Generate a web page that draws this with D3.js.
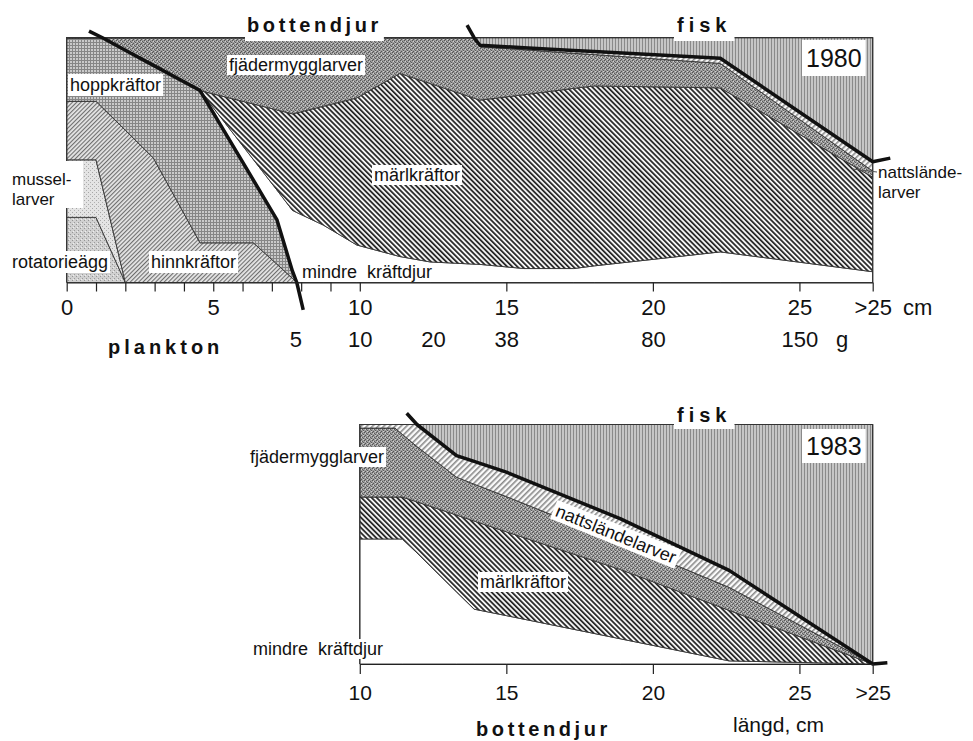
<!DOCTYPE html>
<meta charset="utf-8">
<title>Abborrens föda 1980 och 1983</title>
<style>
body { margin: 0; background: #fff; }
svg { display: block; font-family: "Liberation Sans", Arial, Helvetica, sans-serif; }
.lab { font-size: 18px; fill: #111; white-space: pre; }
.bold { font-size: 20px; font-weight: bold; fill: #111; }
.year { font-size: 25px; fill: #111; }
.axis text { font-family: "Liberation Sans", Arial, sans-serif; font-size: 22px; fill: #111; }
.axis line, .axis path { stroke: #222; stroke-width: 1.2px; }
.frame { fill: none; stroke: #333; stroke-width: 1.2px; }
.thick { fill: none; stroke: #111; stroke-width: 3.5px; stroke-linejoin: round; }
</style>
<body>
<script src="https://cdn.jsdelivr.net/npm/d3@7"></script>
<script>

// --- 1980: andel av födan (%) vid fisklängd (cm) ---
var len1980    = [0, 1, 1.22, 2, 2.96, 4.55, 6.37, 7.17, 7.7, 7.85, 8.75, 9.9, 11.37, 12.4, 13.9, 14.1, 15.6, 17.3, 18, 22.3, 27.5];
var rot1980    = [26.6, 26.6, 20.7, 0, 0, 0, 0, 0, 0, 0, 0, 0, 0, 0, 0, 0, 0, 0, 0, 0, 0];
var mus1980    = [23.5, 23.5, 18.4, 0, 0, 0, 0, 0, 0, 0, 0, 0, 0, 0, 0, 0, 0, 0, 0, 0, 0];
var hinn1980   = [23.9, 23.9, 32.3, 62.2, 50.8, 16.2, 16.2, 7.5, 1.7, 0, 0, 0, 0, 0, 0, 0, 0, 0, 0, 0, 0];
var hopp1980   = [26.0, 26.0, 28.6, 32.7, 37.9, 62.2, 25.6, 18.2, 3.0, 0, 0, 0, 0, 0, 0, 0, 0, 0, 0, 0, 0];
var mindre1980 = [0, 0, 0, 0, 0, 0, 8.4, 12.1, 24.8, 28.6, 23.5, 15.3, 10.6, 8.4, 7.5, 7.4, 5.7, 5.7, 6.8, 12.5, 4.4];
var marl1980   = [0, 0, 0, 0, 0, 0, 22.7, 32.7, 39.4, 40.7, 48.5, 60.1, 74.8, 72.9, 67.8, 67.1, 71.0, 73.6, 73.5, 67.0, 38.6];
var fjad1980   = [0, 0, 0, 5.1, 11.3, 21.6, 27.1, 29.5, 31.1, 30.7, 28.0, 24.6, 14.6, 18.7, 24.7, 21.8, 18.4, 14.3, 12.8, 10.0, 2.5];
var natt1980   = [0, 0, 0, 0, 0, 0, 0, 0, 0, 0, 0, 0, 0, 0, 0, 0.6, 0.8, 1.2, 1.3, 2.1, 3.8];
var fisk1980   = [0, 0, 0, 0, 0, 0, 0, 0, 0, 0, 0, 0, 0, 0, 0, 3.1, 4.1, 5.2, 5.6, 8.4, 50.7];

// --- 1983 ---
var len1983    = [10, 11.2, 11.45, 11.95, 13.3, 13.9, 15, 18.9, 22.6, 27.5];
var mindre1983 = [52.2, 52.2, 52.2, 46.4, 30.1, 22.9, 20.2, 10.5, 1.3, 0];
var marl1983   = [17.5, 17.5, 17.5, 21.3, 32.1, 36.8, 35.0, 28.9, 21.1, 0];
var fjad1983   = [28.8, 28.8, 26.2, 23.1, 15.8, 15.4, 14.7, 11.4, 9.6, 0];
var natt1983   = [1.5, 1.5, 4.1, 9.2, 9.0, 9.5, 10.2, 9.8, 7.1, 0];
var fisk1983   = [0, 0, 0, 0, 13.0, 15.4, 19.9, 39.4, 60.9, 100];

var keys1980 = ["rotatorieägg", "musselarver", "hinnkräftor", "hoppkräftor", "mindre kräftdjur",
                "märlkräftor", "fjädermygglarver", "nattsländelarver", "fisk"];
var keys1983 = ["mindre kräftdjur", "märlkräftor", "fjädermygglarver", "nattsländelarver", "fisk"];

// ends of the thick lines, outside the frame  [cm, %]
var plankEnds1980 = [[0.76, 102.7], [8.07, -11.2]];
var fiskEnds1980  = [[13.66, 105.1], [28.1, 50.8]];
var fiskEnds1983  = [[11.6, 104.7], [28.0, 0.5]];

// axis ticks
var cmAt   = [0, 5, 10, 15, 20, 25, 27.5];
var cmText = ["0", "5", "10", "15", "20", "25", ">25"];
var cmTicks1980 = [0, 1, 2, 3, 4, 5, 6, 7, 8, 9, 10, 15, 20, 25, 27.5];
var cmTicks1983 = [10, 15, 20, 25, 27.5];
var gAt   = [7.8, 10, 12.5, 15, 20, 25];
var gText = ["5", "10", "20", "38", "80", "150"];

var svg = d3.select("body").append("svg").attr("width", 973).attr("height", 741);
svg.append("rect").attr("width", 973).attr("height", 741).attr("fill", "#fff");

var x = d3.scaleLinear().domain([0, 27.5]).range([66.7, 872.7]);
var y80 = d3.scaleLinear().domain([0, 100]).range([282.5, 37.7]);
var y83 = d3.scaleLinear().domain([0, 100]).range([664, 424.5]);

/* patterns */
var defs = svg.append("defs");
function stripes(id, angle, size, w, bg, fg) {
  var p = defs.append("pattern").attr("id", id).attr("patternUnits", "userSpaceOnUse")
    .attr("width", size).attr("height", size).attr("patternTransform", "rotate(" + angle + ")");
  p.append("rect").attr("width", size).attr("height", size).attr("fill", bg);
  p.append("rect").attr("width", w).attr("height", size).attr("fill", fg);
}
function dots(id, bg, pts) {
  var p = defs.append("pattern").attr("id", id).attr("patternUnits", "userSpaceOnUse")
    .attr("width", 4).attr("height", 4);
  p.append("rect").attr("width", 4).attr("height", 4).attr("fill", bg);
  pts.forEach(function(d) {
    p.append("rect").attr("x", d[0]).attr("y", d[1]).attr("width", 1).attr("height", 1).attr("fill", d[2]);
  });
}
stripes("pFisk", 0, 3, 1, "#c6c6c6", "#8a8a8a");
stripes("pNatt", 45, 4, 1.6, "#fafafa", "#8a8a8a");
stripes("pMarl", -45, 3.6, 1.7, "#f4f4f4", "#222");
stripes("pHinn", 45, 3, 1.1, "#e6e6e6", "#6e6e6e");
dots("pFjad", "#9c9c9c", [[0,0,"#555"],[2,1,"#5c5c5c"],[1,3,"#555"],[3,2,"#5c5c5c"],[1,1,"#d0d0d0"],[3,3,"#d0d0d0"]]);
dots("pMus", "#e4e4e4", [[0,0,"#a6a6a6"],[2,2,"#b0b0b0"]]);
dots("pRot", "#d0d0d0", [[0,0,"#959595"],[2,2,"#9a9a9a"],[1,3,"#eee"]]);
(function() {
  var p = defs.append("pattern").attr("id", "pHopp").attr("patternUnits", "userSpaceOnUse")
    .attr("width", 3).attr("height", 3);
  p.append("rect").attr("width", 3).attr("height", 3).attr("fill", "#cacaca");
  p.append("rect").attr("width", 3).attr("height", 1).attr("fill", "#868686");
  p.append("rect").attr("width", 1).attr("height", 3).attr("fill", "#868686");
})();

var fills = {
  "rotatorieägg": "url(#pRot)", "musselarver": "url(#pMus)", "hinnkräftor": "url(#pHinn)",
  "hoppkräftor": "url(#pHopp)", "mindre kräftdjur": "#fff", "märlkräftor": "url(#pMarl)",
  "fjädermygglarver": "url(#pFjad)", "nattsländelarver": "url(#pNatt)", "fisk": "url(#pFisk)"
};

function panel(len, keys, series, y) {
  var rows = len.map(function(l, i) {
    var r = { len: l };
    keys.forEach(function(k, j) { r[k] = series[j][i]; });
    return r;
  });
  var stacked = d3.stack().keys(keys)(rows);
  var area = d3.area().x(function(d) { return x(d.data.len); })
    .y0(function(d) { return y(d[0]); }).y1(function(d) { return y(d[1]); });
  svg.append("g").selectAll("path").data(stacked).join("path")
    .attr("d", area).attr("fill", function(d) { return fills[d.key]; })
    .attr("stroke", "#333").attr("stroke-width", 0.9).attr("stroke-linejoin", "round");
  return stacked;
}

function boundary(stacked, key, from, to, ends) {
  var layer = stacked.find(function(s) { return s.key === key; });
  var pts = layer.filter(function(d) { return d.data.len >= from && d.data.len <= to; })
    .map(function(d) { return [d.data.len, d[1]]; });
  return [ends[0]].concat(pts, [ends[1]]);
}

/* 1980 */
var s80 = panel(len1980, keys1980,
  [rot1980, mus1980, hinn1980, hopp1980, mindre1980, marl1980, fjad1980, natt1980, fisk1980], y80);

svg.append("path").attr("class", "frame")
  .attr("d", "M" + x(0) + "," + y80(0) + "V" + y80(100) + "H" + x(27.5) + "V" + y80(0));

var line80 = d3.line().x(function(d) { return x(d[0]); }).y(function(d) { return y80(d[1]); });
svg.append("path").attr("class", "thick")
  .attr("d", line80(boundary(s80, "hoppkräftor", 1.22, 7.85, plankEnds1980)));
svg.append("path").attr("class", "thick")
  .attr("d", line80(boundary(s80, "nattsländelarver", 13.9, 27.5, fiskEnds1980)));

svg.append("g").attr("class", "axis").attr("transform", "translate(0," + y80(0) + ")")
  .call(d3.axisBottom(x).tickValues(cmTicks1980).tickSize(9).tickSizeOuter(0).tickPadding(8)
    .tickFormat(function(d) { var i = cmAt.indexOf(d); return i < 0 ? "" : cmText[i]; }));

svg.append("g").attr("class", "axis").attr("transform", "translate(0,331.4)")
  .call(d3.axisBottom(x).tickValues(gAt).tickSize(0).tickPadding(0)
    .tickFormat(function(d, i) { return gText[i]; }))
  .call(function(g) { g.select(".domain").remove(); });

/* 1983 */
var s83 = panel(len1983, keys1983, [mindre1983, marl1983, fjad1983, natt1983, fisk1983], y83);

svg.append("path").attr("class", "frame")
  .attr("d", "M" + x(10) + "," + y83(0) + "V" + y83(100) + "H" + x(27.5) + "V" + y83(0));

var line83 = d3.line().x(function(d) { return x(d[0]); }).y(function(d) { return y83(d[1]); });
svg.append("path").attr("class", "thick")
  .attr("d", line83(boundary(s83, "nattsländelarver", 11.95, 27.5, fiskEnds1983)));

var xb = x.copy().domain([10, 27.5]).range([x(10), x(27.5)]);
svg.append("g").attr("class", "axis").attr("transform", "translate(0," + y83(0) + ")")
  .call(d3.axisBottom(xb).tickValues(cmTicks1983).tickSize(10).tickSizeOuter(0).tickPadding(11)
    .tickFormat(function(d) { var i = cmAt.indexOf(d); return i < 0 ? "" : cmText[i]; }))
  .call(function(g) { g.selectAll("text").style("font-size", "21px"); });

// leader to the nattslände label
svg.append("line").attr("x1", 852).attr("y1", 169).attr("x2", 877).attr("y2", 172)
  .attr("stroke", "#555").attr("stroke-width", 1);

/* labels */
var lab = svg.append("g");
function tag(d) {
  var t = lab.append("text").attr("class", d.cls || "lab").attr("x", d.x).attr("y", d.y)
    .style("letter-spacing", d.ls ? d.ls + "px" : null).text(d.t);
  if (d.size) t.style("font-size", d.size + "px");
  if (d.pad) {
    var b = t.node().getBBox();
    lab.insert("rect", function() { return t.node(); })
      .attr("x", b.x - d.pad[0]).attr("y", b.y - d.pad[1])
      .attr("width", b.width + 2 * d.pad[0]).attr("height", b.height + 2 * d.pad[1])
      .attr("fill", "#fff");
  }
}
lab.append("rect").attr("x", 8).attr("y", 161).attr("width", 75).attr("height", 47).attr("fill", "#fff");

[
  { t: "bottendjur", x: 247, y: 32, cls: "bold", ls: 3.6, pad: [2, 5] },
  { t: "fisk", x: 677, y: 32, cls: "bold", ls: 5, pad: [3, 5] },
  { t: "1980", x: 806, y: 67, cls: "year", pad: [4, 4] },
  { t: "fjädermygglarver", x: 229, y: 71, pad: [2, 0] },
  { t: "hoppkräftor", x: 70, y: 91, pad: [2, 1] },
  { t: "mussel-", x: 12, y: 185, size: 17 },
  { t: "larver", x: 12, y: 205, size: 17 },
  { t: "rotatorieägg", x: 12, y: 268, pad: [2, 1] },
  { t: "hinnkräftor", x: 151, y: 268, pad: [2, 1] },
  { t: "mindre  kräftdjur", x: 302, y: 278 },
  { t: "märlkräftor", x: 374, y: 181, pad: [2, 0] },
  { t: "nattslände-", x: 878, y: 178, size: 17 },
  { t: "larver", x: 878, y: 198, size: 17 },
  { t: "cm", x: 903, y: 315, size: 22 },
  { t: "g", x: 836, y: 347, size: 22 },
  { t: "plankton", x: 108, y: 354, cls: "bold", ls: 4 },
  { t: "fisk", x: 677, y: 422, cls: "bold", ls: 5, pad: [3, 3] },
  { t: "1983", x: 806, y: 455, cls: "year", pad: [4, 3] },
  { t: "fjädermygglarver", x: 250, y: 463, pad: [2, 0] },
  { t: "märlkräftor", x: 480, y: 588, pad: [2, 0] },
  { t: "mindre  kräftdjur", x: 253, y: 655, pad: [2, 0] },
  { t: "bottendjur", x: 476, y: 736, cls: "bold", ls: 3.6 },
  { t: "längd, cm", x: 733, y: 732, size: 21 }
].forEach(tag);

// rotated label along the nattsländelarver band
var rg = lab.append("g").attr("transform", "translate(616,534) rotate(22)");
var rt = rg.append("text").attr("class", "lab").attr("text-anchor", "middle").attr("dy", "0.35em")
  .text("nattsländelarver");
var rb = rt.node().getBBox();
rg.insert("rect", "text").attr("x", rb.x - 3).attr("y", rb.y).attr("width", rb.width + 6)
  .attr("height", rb.height).attr("fill", "#fff");

</script>
